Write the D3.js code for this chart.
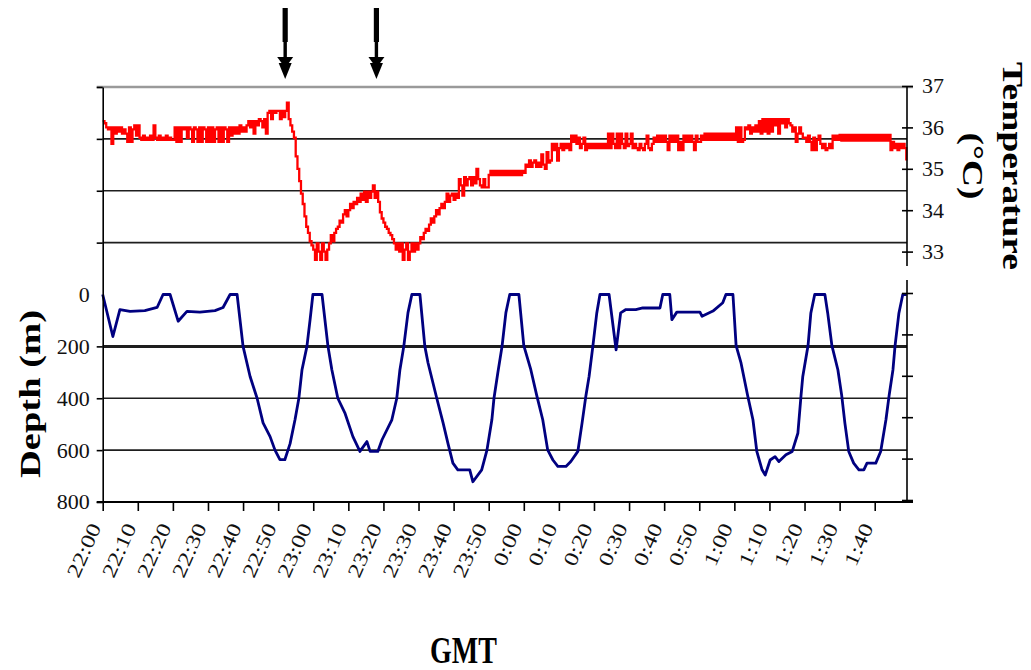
<!DOCTYPE html>
<html>
<head>
<meta charset="utf-8">
<script src="https://cdnjs.cloudflare.com/ajax/libs/d3/7.8.5/d3.min.js"></script>
<style>
  body { margin: 0; background: #fff; }
  svg { display: block; }
</style>
</head>
<body>
<svg id="chart" width="1031" height="670"></svg>
<script>
// Dive record: depth (m) and body temperature (°C) against GMT, 22:00 – 1:49

const startClock = "22:00";
const endMinutes = 229.2;

const timeTicks = ["22:00", "22:10", "22:20", "22:30", "22:40", "22:50",
  "23:00", "23:10", "23:20", "23:30", "23:40", "23:50",
  "0:00", "0:10", "0:20", "0:30", "0:40", "0:50",
  "1:00", "1:10", "1:20", "1:30", "1:40"];

const depthTicks = [-800, -600, -400, -200, 0, 200, 400, 600, 800];
const depthLabelled = [0, 200, 400, 600, 800];
const depthGrid = [-600, -400, -200, 200, 400, 600];
const depthGridHeavy = [200];

const tempTicks = [27, 28, 29, 30, 31, 32, 33, 34, 35, 36, 37];
const tempLabelled = [33, 34, 35, 36, 37];

const markerTimes = ["22:52", "23:18"];

// depth trace: minutes after 22:00 and depth in metres
const depthMinutes = [
  0, 2.9, 4.9, 7.8, 12.0, 15.5, 17.2, 19.2, 21.5, 24.0,
  27.7, 32.0, 34.3, 36.3, 38.3, 40.0, 42.0, 44.0, 45.7, 47.7,
  49.1, 50.5, 51.9, 53.4, 54.8, 55.9, 56.8, 58.2, 59.1, 59.9,
  62.5, 64.2, 65.3, 67.0, 69.0, 71.3, 73.3, 75.3, 76.2, 78.4,
  79.6, 82.4, 83.8, 84.7, 85.8, 87.0, 88.1, 90.4, 91.8, 92.7,
  95.2, 97.0, 98.4, 99.8, 101.2, 104.6, 105.5, 108.0, 109.5, 110.9,
  111.5, 112.6, 113.8, 114.9, 116.0, 118.6, 120.0, 122.0, 123.7, 125.4,
  126.8, 128.3, 129.7, 132.0, 133.4, 135.4, 136.6, 137.7, 138.6, 139.7,
  140.8, 141.7, 144.3, 146.3, 147.6, 149.1, 151.9, 153.9, 158.8, 159.6,
  161.6, 162.2, 163.6, 167.4, 170.2, 170.8, 173.9, 176.7, 177.6, 179.6,
  180.5, 181.9, 183.8, 185.3, 186.4, 187.9, 188.8, 190.2, 191.6, 192.7,
  194.7, 196.5, 198.1, 199.0, 199.5, 201.0, 201.8, 202.9, 205.8, 206.6,
  207.8, 209.5, 210.6, 211.5, 212.6, 214.0, 215.5, 216.9, 217.8, 220.3,
  221.7, 223.2, 224.1, 225.2, 225.8, 226.9, 228.0, 229.1
];
const depthMeters = [
  0, 162, 58, 65, 62, 50, 0, 0, 103, 65,
  68, 62, 50, 0, 0, 200, 316, 400, 495, 548,
  600, 637, 637, 575, 483, 400, 290, 200, 97, 0,
  0, 200, 290, 400, 456, 548, 605, 567, 605, 605,
  560, 483, 400, 290, 200, 70, 0, 0, 200, 263,
  400, 495, 575, 650, 676, 676, 722, 676, 600, 483,
  400, 302, 200, 70, 0, 0, 197, 290, 390, 483,
  599, 638, 663, 663, 644, 605, 496, 390, 316, 197,
  71, 0, 0, 213, 71, 58, 58, 52, 52, 0,
  0, 97, 68, 68, 68, 84, 64, 32, 0, 0,
  197, 264, 390, 483, 605, 676, 696, 638, 625, 644,
  618, 605, 535, 390, 316, 197, 71, 0, 0, 71,
  197, 290, 390, 496, 605, 650, 676, 676, 650, 650,
  605, 483, 390, 290, 197, 71, 0, 0
];

// temperature logger: one reading every half minute from 22:00
const tempStepMinutes = 0.5;
const tempC = [
  36.15, 36.1, 36.0, 35.95, 36.0, 35.6, 36.0, 35.85, 36.0, 35.9, 36.0, 35.85, 35.95, 35.85, 35.65, 36.0, 35.65, 35.95, 36.05, 35.8,
  36.05, 35.75, 35.7, 35.8, 35.7, 35.75, 35.7, 35.8, 35.7, 36.05, 35.75, 35.7, 35.8, 35.7, 35.75, 35.7, 35.8, 35.7, 35.75, 35.7,
  35.7, 36.0, 35.65, 36.0, 35.65, 36.0, 35.95, 36.0, 35.75, 36.0, 35.95, 35.65, 36.0, 35.95, 35.65, 36.0, 35.65, 36.0, 35.95, 35.65,
  36.0, 35.65, 36.0, 35.65, 35.95, 36.0, 35.65, 36.0, 35.65, 36.0, 35.95, 35.65, 36.0, 35.8, 36.0, 35.85, 36.0, 35.85, 36.05, 35.9,
  36.0, 35.9, 36.05, 36.15, 36.0, 36.15, 35.85, 36.15, 36.05, 36.2, 36.15, 36.0, 36.2, 35.85, 36.35, 36.4, 36.2, 36.4, 36.35, 36.4,
  36.4, 36.2, 36.4, 36.25, 36.4, 36.6, 36.2, 36.05, 35.9, 35.75, 35.3, 35.0, 34.7, 34.4, 34.15, 33.85, 33.6, 33.45, 33.25, 33.15,
  33.05, 32.8, 33.2, 33.0, 32.8, 33.2, 33.0, 32.8, 33.05, 33.2, 33.4, 33.25, 33.45, 33.55, 33.6, 33.75, 33.7, 33.9, 34.0, 33.85,
  34.0, 34.15, 34.05, 34.2, 34.15, 34.3, 34.2, 34.4, 34.25, 34.45, 34.2, 34.45, 34.3, 34.45, 34.6, 34.3, 34.45, 34.2, 33.95, 33.8,
  33.7, 33.6, 33.55, 33.45, 33.4, 33.3, 33.2, 33.05, 33.2, 33.0, 33.2, 32.8, 33.05, 33.2, 32.8, 33.0, 33.2, 33.0, 33.2, 33.05,
  33.2, 33.35, 33.3, 33.45, 33.55, 33.5, 33.65, 33.8, 33.7, 33.85, 34.0, 33.9, 34.05, 34.15, 34.05, 34.2, 34.4, 34.2, 34.35, 34.4,
  34.25, 34.4, 34.3, 34.75, 34.6, 34.35, 34.8, 34.6, 34.75, 34.8, 34.6, 34.8, 34.65, 35.0, 34.75, 34.6, 34.55, 34.75, 34.55, 34.55,
  34.85, 34.95, 34.85, 34.95, 34.85, 34.95, 34.85, 34.95, 34.85, 34.95, 34.85, 34.95, 34.85, 34.95, 34.85, 34.95, 34.85, 34.95, 34.85, 34.95,
  34.9, 35.1, 35.05, 35.2, 35.05, 35.15, 35.2, 35.05, 35.15, 35.05, 35.35, 35.1, 35.0, 35.4, 35.15, 35.2, 35.6, 35.45, 35.6, 35.2,
  35.5, 35.6, 35.45, 35.6, 35.5, 35.6, 35.45, 35.8, 35.65, 35.8, 35.6, 35.75, 35.5, 35.6, 35.75, 35.45, 35.6, 35.5, 35.6, 35.5,
  35.6, 35.5, 35.6, 35.5, 35.6, 35.5, 35.6, 35.5, 35.85, 35.5, 35.85, 35.6, 35.5, 35.85, 35.5, 35.85, 35.6, 35.5, 35.85, 35.55,
  35.6, 35.85, 35.5, 35.6, 35.5, 35.45, 35.6, 35.5, 35.45, 35.6, 35.8, 35.5, 35.45, 35.6, 35.75, 35.65, 35.8, 35.65, 35.8, 35.65,
  35.8, 35.65, 35.45, 35.8, 35.65, 35.8, 35.65, 35.8, 35.45, 35.65, 35.45, 35.8, 35.65, 35.8, 35.65, 35.8, 35.65, 35.45, 35.8, 35.65,
  35.65, 35.8, 35.7, 35.85, 35.7, 35.85, 35.7, 35.85, 35.7, 35.85, 35.7, 35.85, 35.7, 35.85, 35.7, 35.85, 35.7, 35.85, 35.7, 35.85,
  35.7, 36.0, 35.65, 36.0, 35.65, 35.7, 36.0, 35.95, 36.05, 35.85, 36.0, 35.9, 36.05, 35.9, 36.15, 35.85, 36.2, 35.9, 36.2, 35.85,
  36.2, 35.9, 36.2, 36.05, 36.2, 35.85, 36.2, 36.1, 36.2, 36.0, 36.2, 36.1, 36.05, 35.9, 36.0, 35.65, 35.85, 36.0, 35.85, 35.75,
  35.75, 35.65, 35.8, 35.65, 35.45, 35.75, 35.45, 35.7, 35.8, 35.6, 35.5, 35.6, 35.45, 35.5, 35.6, 35.5, 35.8, 35.7, 35.8, 35.7,
  35.82, 35.68, 35.82, 35.68, 35.82, 35.68, 35.82, 35.68, 35.82, 35.68, 35.82, 35.68, 35.82, 35.68, 35.82, 35.68, 35.82, 35.68, 35.82, 35.68,
  35.82, 35.68, 35.82, 35.68, 35.82, 35.68, 35.82, 35.68, 35.82, 35.45, 35.65, 35.5, 35.6, 35.45, 35.6, 35.5, 35.6, 35.5, 35.2
];

// ---- helpers ----
function clockToMinutes(s) {
  const [h, m] = s.split(":").map(Number);
  const [h0, m0] = startClock.split(":").map(Number);
  let mins = h * 60 + m - (h0 * 60 + m0);
  if (mins < 0) mins += 24 * 60;
  return mins;
}

const serif = '"Liberation Serif", "Times New Roman", Times, serif';

const svg = d3.select("#chart");

// ---- scales ----
const x = d3.scaleLinear().domain([0, endMinutes]).range([102.7, 907]);
const yDepth = d3.scaleLinear().domain([-800, 800]).range([87, 502]);
const yTemp = d3.scaleLinear().domain([27, 37]).range([500, 86]);

const plotLeft = x.range()[0], plotRight = x.range()[1];
const plotBottom = yDepth.range()[1], plotTop = yDepth.range()[0];

// ---- gridlines ----
svg.append("g").selectAll("line")
  .data(depthGrid)
  .join("line")
  .attr("x1", plotLeft).attr("x2", plotRight)
  .attr("y1", d => yDepth(d)).attr("y2", d => yDepth(d))
  .attr("stroke", "#1e1e1e")
  .attr("stroke-width", d => depthGridHeavy.includes(d) ? 3 : 1.6);

// plot-area top border
svg.append("line")
  .attr("x1", plotLeft - 6).attr("x2", plotRight + 6)
  .attr("y1", plotTop).attr("y2", plotTop)
  .attr("stroke", "#9a9a9a").attr("stroke-width", 2.6);

// ---- temperature trace ----
svg.append("path")
  .datum(tempC)
  .attr("fill", "none")
  .attr("stroke", "#ff0000")
  .attr("stroke-width", 2.3)
  .attr("d", d3.line()
    .x((d, i) => x(i * tempStepMinutes))
    .y(d => yTemp(d))
    .curve(d3.curveStepAfter));

// ---- depth trace ----
const depthPoints = depthMinutes.map((t, i) => [t, depthMeters[i]]);
svg.append("path")
  .datum(depthPoints)
  .attr("fill", "none")
  .attr("stroke", "#000080")
  .attr("stroke-width", 2.8)
  .attr("stroke-linejoin", "round")
  .attr("d", d3.line()
    .x(d => x(d[0]))
    .y(d => yDepth(d[1])));

// ---- left (depth) axis ----
const leftAxis = svg.append("g")
  .attr("transform", `translate(${plotLeft},0)`)
  .call(d3.axisLeft(yDepth)
    .tickValues(depthTicks.filter(d => d !== 0))
    .tickSize(6)
    .tickSizeOuter(0)
    .tickFormat(""));
leftAxis.select(".domain").attr("stroke", "#000").attr("stroke-width", 1.6);
leftAxis.selectAll(".tick line").attr("stroke", "#000").attr("stroke-width", 1.6);

svg.append("g").selectAll("text")
  .data(depthLabelled)
  .join("text")
  .attr("x", plotLeft - 13)
  .attr("y", d => yDepth(d))
  .attr("dy", "0.34em")
  .attr("text-anchor", "end")
  .attr("font-family", serif)
  .attr("font-size", 22)
  .attr("fill", "#111")
  .text(d => d);

// ---- right (temperature) axis ----
const rightAxis = svg.append("g")
  .attr("transform", `translate(${plotRight},0)`)
  .call(d3.axisRight(yTemp)
    .tickValues(tempTicks)
    .tickSize(6)
    .tickSizeOuter(0)
    .tickFormat(""));
rightAxis.select(".domain").remove();
rightAxis.selectAll(".tick line")
  .attr("x1", -5).attr("x2", 6)
  .attr("stroke", "#000").attr("stroke-width", 1.6);

// axis line drawn in two pieces, broken between the panels
svg.append("g").selectAll("line")
  .data([[plotTop, 266], [280, plotBottom]])
  .join("line")
  .attr("x1", plotRight).attr("x2", plotRight)
  .attr("y1", d => d[0]).attr("y2", d => d[1])
  .attr("stroke", "#000").attr("stroke-width", 1.6);

svg.append("g").selectAll("text")
  .data(tempLabelled)
  .join("text")
  .attr("x", plotRight + 15)
  .attr("y", d => yTemp(d))
  .attr("dy", "0.34em")
  .attr("text-anchor", "start")
  .attr("font-family", serif)
  .attr("font-size", 22)
  .attr("fill", "#111")
  .text(d => d);

// ---- bottom (time) axis ----
const tickMinutes = timeTicks.map(clockToMinutes);
const bottomAxis = svg.append("g")
  .attr("transform", `translate(0,${plotBottom})`)
  .call(d3.axisBottom(x)
    .tickValues(tickMinutes)
    .tickSize(9)
    .tickSizeOuter(0)
    .tickFormat(""));
bottomAxis.select(".domain").remove();
bottomAxis.selectAll(".tick line").attr("stroke", "#000").attr("stroke-width", 1.6);

svg.append("line")
  .attr("x1", plotLeft - 6).attr("x2", plotRight + 6)
  .attr("y1", plotBottom).attr("y2", plotBottom)
  .attr("stroke", "#000").attr("stroke-width", 1.8);

svg.append("g").selectAll("text")
  .data(timeTicks)
  .join("text")
  .attr("transform", d => `translate(${x(clockToMinutes(d)) - 1},${plotBottom + 25}) rotate(-66) scale(1.25,1)`)
  .attr("text-anchor", "end")
  .attr("font-family", serif)
  .attr("font-size", 20)
  .attr("fill", "#111")
  .text(d => d);

// ---- event markers ----
const markers = svg.append("g").selectAll("g")
  .data(markerTimes)
  .join("g")
  .attr("transform", d => `translate(${x(clockToMinutes(d))},0)`);
markers.append("rect").attr("x", -2.6).attr("y", 8).attr("width", 5.2).attr("height", 34).attr("fill", "#000");
markers.append("rect").attr("x", -1.7).attr("y", 41).attr("width", 3.4).attr("height", 18).attr("fill", "#000");
markers.append("path").attr("d", "M-8,57 L8,57 L0,68 Z").attr("fill", "#000");
markers.append("path").attr("d", "M-6.5,63 L6.5,63 L0,79 Z").attr("fill", "#000");

// ---- axis titles ----
svg.append("text")
  .attr("transform", "translate(40,394) rotate(-90) scale(1.33,1)")
  .attr("text-anchor", "middle")
  .attr("font-family", serif)
  .attr("font-weight", "bold")
  .attr("font-size", 29)
  .text("Depth (m)");

const tempTitle = ["Temperature", "(°C)"];
svg.append("g").selectAll("text")
  .data(tempTitle)
  .join("text")
  .attr("transform", (d, i) => `translate(${1003 - i * 40},166) rotate(90) scale(1.29,1)`)
  .attr("text-anchor", "middle")
  .attr("font-family", serif)
  .attr("font-weight", "bold")
  .attr("font-size", 29)
  .text(d => d);

svg.append("text")
  .attr("transform", "translate(463.5,663) scale(1,1.35)")
  .attr("text-anchor", "middle")
  .attr("font-family", serif)
  .attr("font-weight", "bold")
  .attr("font-size", 28)
  .text("GMT");
</script>
</body>
</html>
